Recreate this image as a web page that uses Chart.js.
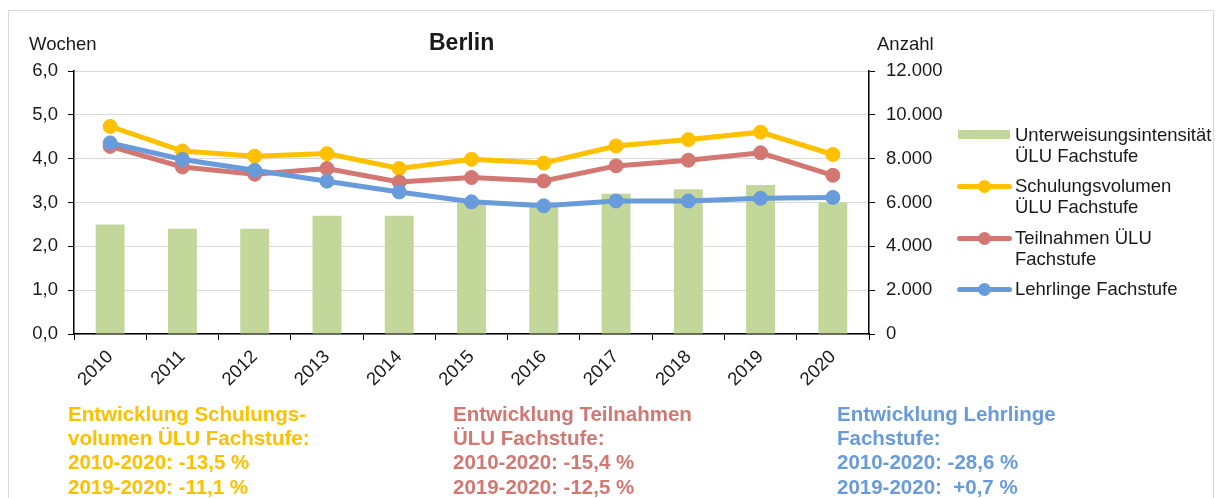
<!DOCTYPE html>
<html lang="de">
<head>
<meta charset="utf-8">
<title>Berlin</title>
<script src="https://cdn.jsdelivr.net/npm/chart.js@4.4.1/dist/chart.umd.min.js"></script>
<style>
    html, body { margin: 0; padding: 0; background: #fff; }
    body { width: 1222px; height: 498px; position: relative; overflow: hidden;
           font-family: "Liberation Sans", Arial, sans-serif; color: #1a1a1a; }
    #frame { position: absolute; left: 8px; top: 10px; width: 1206px; height: 520px;
             border: 1px solid #d9d9d9; box-sizing: border-box; }
    #chart { position: absolute; left: 0; top: 0; }
    .lbl { position: absolute; white-space: nowrap; line-height: 1; }
    #title { left: 429px; top: 31px; font-size: 23px; font-weight: bold; }
    #ttlLeft { left: 29px; top: 35px; font-size: 18.5px; }
    #ttlRight { left: 877px; top: 35px; font-size: 18.5px; }
    .leg { position: absolute; left: 957px; font-size: 18.5px; line-height: 20.5px; }
    .leg .sym { position: absolute; left: 0; width: 55px; height: 14px; }
    .leg .txt { position: absolute; left: 58px; top: 0; white-space: nowrap; }
    .sym .bar { position: absolute; left: 1px; top: 2px; width: 52px; height: 9px; }
    .sym .ln { position: absolute; left: 0; top: 5px; width: 55px; height: 5px; border-radius: 3px; }
    .sym .dot { position: absolute; left: 21px; top: 1px; width: 13px; height: 13px; border-radius: 50%; }
    .note { position: absolute; top: 402px; font-size: 20.5px; font-weight: bold; line-height: 24.2px; white-space: nowrap; }
</style>
</head>
<body>
<div id="frame"></div>
<canvas id="chart" width="1222" height="498"></canvas>
<div class="lbl" id="title">Berlin</div>
<div class="lbl" id="ttlLeft">Wochen</div>
<div class="lbl" id="ttlRight">Anzahl</div>
<div id="legend"></div>
<div class="note" id="note1" style="left:68px;"></div>
<div class="note" id="note2" style="left:453px;"></div>
<div class="note" id="note3" style="left:837px;"></div>
<script>
    // Jahre
    const years = ['2010', '2011', '2012', '2013', '2014', '2015', '2016', '2017', '2018', '2019', '2020'];

    // Unterweisungsintensität ÜLU Fachstufe (Wochen, linke Achse)
    const intensitaet = [2.5, 2.4, 2.4, 2.7, 2.7, 3.0, 2.9, 3.2, 3.3, 3.4, 3.0];

    // Anzahl (rechte Achse)
    const schulungsvolumen = [9470, 8350, 8110, 8230, 7550, 7970, 7800, 8580, 8870, 9210, 8190];
    const teilnahmen = [8560, 7620, 7290, 7550, 6940, 7140, 6980, 7670, 7930, 8270, 7240];
    const lehrlinge = [8720, 7960, 7470, 6970, 6480, 6030, 5850, 6070, 6070, 6190, 6230];

    // Achsen
    const leftTicks = [0, 1, 2, 3, 4, 5, 6];
    const rightTicks = [0, 2000, 4000, 6000, 8000, 10000, 12000];

    const seriesNames = [
        'Unterweisungsintensität\nÜLU Fachstufe',
        'Schulungsvolumen\nÜLU Fachstufe',
        'Teilnahmen ÜLU\nFachstufe',
        'Lehrlinge Fachstufe'
    ];

    const notes = [
        ['Entwicklung Schulungs-', 'volumen ÜLU Fachstufe:', '2010-2020: -13,5 %', '2019-2020: -11,1 %'],
        ['Entwicklung Teilnahmen', 'ÜLU Fachstufe:', '2010-2020: -15,4 %', '2019-2020: -12,5 %'],
        ['Entwicklung Lehrlinge', 'Fachstufe:', '2010-2020: -28,6 %', '2019-2020: \u00a0+0,7 %']
    ];

    const colors = {
        bar: '#c4d79b',
        volumen: '#ffc000',
        teilnahmen: '#d37773',
        lehrlinge: '#689bdb',
        grid: '#d9d9d9',
        axis: '#000000',
        text: '#1a1a1a'
    };

    function fmtThousands(v) {
        return String(v).replace(/\B(?=(\d{3})+(?!\d))/g, '.');
    }

    Chart.defaults.font.family = '"Liberation Sans", Arial, sans-serif';
    Chart.defaults.font.size = 18.5;
    Chart.defaults.color = colors.text;

    function lineSet(label, data, color, order) {
        return {
            type: 'line',
            label: label,
            data: data,
            yAxisID: 'y1',
            borderColor: color,
            backgroundColor: color,
            borderWidth: 5,
            pointRadius: 7,
            pointBorderWidth: 1,
            pointBackgroundColor: color,
            pointBorderColor: color,
            tension: 0,
            fill: false,
            clip: false,
            order: order
        };
    }

    const ctx = document.getElementById('chart').getContext('2d');
    new Chart(ctx, {
        type: 'bar',
        data: {
            labels: years,
            datasets: [
                {
                    type: 'bar',
                    label: seriesNames[0],
                    data: intensitaet,
                    yAxisID: 'y',
                    backgroundColor: colors.bar,
                    borderWidth: 0,
                    barPercentage: 0.4,
                    categoryPercentage: 1.0,
                    order: 4
                },
                lineSet(seriesNames[1], schulungsvolumen, colors.volumen, 3),
                lineSet(seriesNames[2], teilnahmen, colors.teilnahmen, 2),
                lineSet(seriesNames[3], lehrlinge, colors.lehrlinge, 1)
            ]
        },
        options: {
            responsive: false,
            animation: false,
            devicePixelRatio: 1,
            layout: {
                padding: { left: 0, top: 71, right: 273, bottom: 94 }
            },
            plugins: {
                legend: { display: false },
                title: { display: false },
                tooltip: { enabled: false }
            },
            scales: {
                x: {
                    offset: true,
                    grid: {
                        offset: true,
                        drawOnChartArea: false,
                        tickLength: 6,
                        tickColor: colors.axis,
                        tickWidth: 1
                    },
                    border: { color: colors.axis, width: 1.5 },
                    ticks: {
                        autoSkip: false,
                        minRotation: 45,
                        maxRotation: 45,
                        padding: 6,
                        color: colors.text
                    },
                    afterFit: function (scale) { scale.height = 70; }
                },
                y: {
                    position: 'left',
                    min: 0,
                    max: 6,
                    afterBuildTicks: function (scale) {
                        scale.ticks = leftTicks.map(function (v) { return { value: v }; });
                    },
                    grid: {
                        color: colors.grid,
                        lineWidth: 1,
                        tickLength: 6,
                        tickColor: colors.axis
                    },
                    border: { color: colors.axis, width: 1.5 },
                    ticks: {
                        padding: 10,
                        color: colors.text,
                        callback: function (value) {
                            return Number(value).toFixed(1).replace('.', ',');
                        }
                    },
                    afterFit: function (scale) { scale.width = 74; }
                },
                y1: {
                    position: 'right',
                    min: 0,
                    max: 12000,
                    afterBuildTicks: function (scale) {
                        scale.ticks = rightTicks.map(function (v) { return { value: v }; });
                    },
                    grid: {
                        drawOnChartArea: false,
                        tickLength: 6,
                        tickColor: colors.axis
                    },
                    border: { color: colors.axis, width: 1.5 },
                    ticks: {
                        padding: 11,
                        color: colors.text,
                        callback: function (value) { return fmtThousands(value); }
                    },
                    afterFit: function (scale) { scale.width = 80; }
                }
            }
        }
    });

    // Legende (rechts)
    var legendRows = [
        { top: 125, kind: 'bar', color: colors.bar },
        { top: 176, kind: 'line', color: colors.volumen },
        { top: 228, kind: 'line', color: colors.teilnahmen },
        { top: 279, kind: 'line', color: colors.lehrlinge }
    ];
    var legendEl = document.getElementById('legend');
    legendRows.forEach(function (row, i) {
        var item = document.createElement('div');
        item.className = 'leg';
        item.style.top = row.top + 'px';
        var sym = '<div class="sym" style="top:3px">';
        if (row.kind === 'bar') {
            sym += '<div class="bar" style="background:' + row.color + '"></div>';
        } else {
            sym += '<div class="ln" style="background:' + row.color + '"></div>' +
                   '<div class="dot" style="background:' + row.color + '"></div>';
        }
        sym += '</div>';
        item.innerHTML = sym + '<div class="txt">' + seriesNames[i].replace('\n', '<br>') + '</div>';
        legendEl.appendChild(item);
    });

    // Texte unten
    var noteColors = [colors.volumen, colors.teilnahmen, colors.lehrlinge];
    notes.forEach(function (lines, i) {
        var el = document.getElementById('note' + (i + 1));
        el.style.color = noteColors[i];
        el.innerHTML = lines.join('<br>');
    });
</script>
</body>
</html>
